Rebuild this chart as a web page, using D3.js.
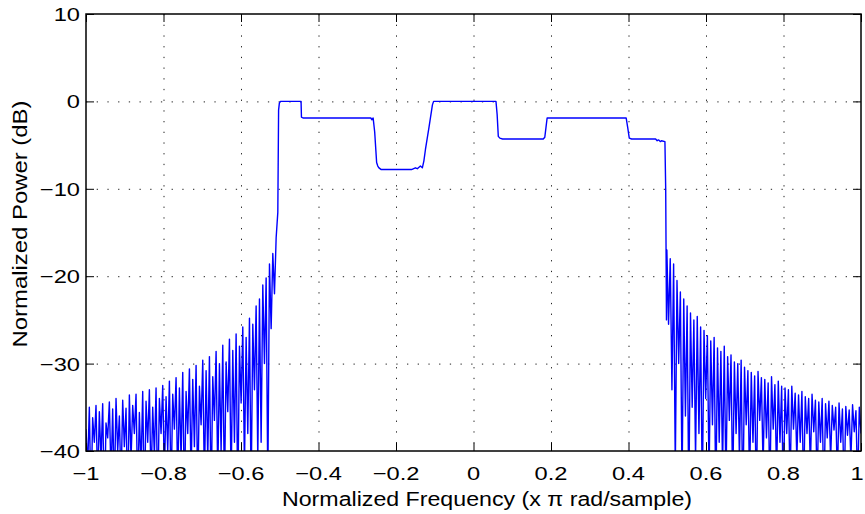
<!DOCTYPE html>
<html><head>
<meta charset="utf-8">
<script src="https://d3js.org/d3.v7.min.js"></script>
<style>
  body { margin: 0; background: #fff; }
  svg { font-family: "Liberation Sans", Arial, Helvetica, sans-serif; }
  .grid line { stroke: #222; stroke-width: 1; stroke-dasharray: 1.3,9.4; }
  .grid path { display: none; }
  .ticks line { stroke: #000; stroke-width: 1; }
  .ticks path { display: none; }
  .ticks text { display: none; }
</style>
</head>
<body>
<svg id="chart" width="865" height="514"></svg>
<script>
// tick labels
const xTicks = [-1, -0.8, -0.6, -0.4, -0.2, 0, 0.2, 0.4, 0.6, 0.8, 1];
const yTicks = [-40, -30, -20, -10, 0, 10];

// stopband tail on the left, evenly sampled from -1 to -0.505
const leftTailRange = [-1, -0.505];
const leftTailDb = [
  -37.5, -42, -35.0, -46, -36.2, -39, -34.8, -44, -35.5, -41, -34.6, -47, -36.8, -38.5, -34.4, -43, -35.2, -45, -34.0, -40, -36.0, -44, -34.2, -39.5,
  -35.1, -46, -33.6, -41, -34.8, -38, -33.5, -45, -35.6, -42, -33.2, -47, -34.3, -39, -33.0, -44, -35.0, -40.5, -32.8, -46, -34.0, -38.0, -32.5,
  -43, -33.8, -40, -32.0, -45, -33.5, -37.5, -31.6, -44, -32.8, -41, -31.0, -46, -33.2, -38, -30.6, -43, -31.8, -39.5, -30.2, -45, -32.6, -37.0, -29.6,
  -44, -30.8, -41, -29.2, -46, -31.5, -36.5, -28.6, -43, -30.0, -40, -27.9, -45, -29.8, -35.5, -27.2, -44, -28.5, -39, -26.6, -46, -28.0, -34.5,
  -25.8, -42, -27.0, -38, -24.8, -45, -25.5, -33, -23.4, -41, -22.6,
  -39, -21.0, -30, -20.2, -44, -18.6, -26, -17.4, -22, -15.6, -12.7
];

// passband steps
const bandFreq = [-0.503, -0.501, -0.498, -0.445, -0.444, -0.440, -0.265, -0.262, -0.259, -0.255, -0.250, -0.247, -0.244, -0.238,
  -0.160, -0.150, -0.145, -0.137, -0.132, -0.128, -0.124, -0.115, -0.106, -0.103,
  0.058, 0.061, 0.064, 0.068, 0.075, 0.180, 0.184, 0.187, 0.190, 0.394, 0.398, 0.402, 0.408,
  0.470, 0.474, 0.478, 0.482, 0.485, 0.494, 0.496, 0.498];
const bandDb = [-1.0, -0.2, 0.0, 0.0, -1.8, -1.9, -1.9, -2.1, -1.9, -3.5, -7.0, -7.4, -7.6, -7.8,
  -7.8, -7.6, -7.7, -7.4, -7.6, -6.8, -5.5, -3.0, -0.4, 0.0,
  0.0, -1.5, -4.0, -4.2, -4.3, -4.3, -4.1, -3.0, -1.9, -1.9, -3.0, -4.2, -4.3,
  -4.3, -4.5, -4.4, -4.6, -4.5, -4.6, -10, -25];

// stopband tail on the right, evenly sampled from 0.499 to 1
const rightTailRange = [0.499, 1];
const rightTailDb = [
  -17.0, -25.5, -18.0, -33, -18.6, -42, -20.5, -30, -21.8, -44, -22.6, -36,
  -23.4, -46, -24.2, -35, -25.0, -41, -24.6, -38, -25.8, -45, -26.2, -34,
  -26.8, -43, -27.4, -37, -27.0, -46, -28.2, -39, -28.6, -42, -28.0,
  -44, -29.2, -36.5, -29.0, -45, -29.8, -38, -30.0, -41, -29.6, -47, -30.4,
  -37, -30.8, -44, -31.0, -39, -31.4, -46, -30.9, -36.5, -31.6, -42, -31.8, -38.5, -32.2, -45, -31.5, -37.5, -32.4, -43, -32.0, -39, -32.6, -46,
  -32.8, -38, -33.0, -44, -32.6, -37.5, -33.4, -41, -33.6, -39, -33.2, -45, -33.8, -38, -34.0, -42, -33.5, -37.8, -34.2, -44, -34.4, -39, -34.0,
  -46, -34.6, -38.5, -34.3, -41, -34.8, -37.6, -35.0, -43, -34.5, -39, -35.2, -45, -34.9, -38.2, -35.3, -41, -34.7, -37.8, -35.4, -44, -35.0, -38
];

const svg = d3.select("svg#chart");
const margin = { top: 14, right: 4, bottom: 63, left: 86 };
const width = 865 - margin.left - margin.right;
const height = 514 - margin.top - margin.bottom;

const x = d3.scaleLinear().domain([-1, 1]).range([0, width]);
const y = d3.scaleLinear().domain([-40, 10]).range([height, 0]);

function sampled(range, values) {
  const idx = d3.scaleLinear().domain([0, values.length - 1]).range(range);
  return values.map((v, i) => ({ f: idx(i), db: v }));
}
const data = sampled(leftTailRange, leftTailDb)
  .concat(bandFreq.map((f, i) => ({ f: f, db: bandDb[i] })))
  .concat(sampled(rightTailRange, rightTailDb));

const g = svg.append("g").attr("transform", `translate(${margin.left},${margin.top})`);

// dotted grid
g.append("g").attr("class", "grid")
  .call(d3.axisBottom(x).tickValues(xTicks.slice(1, -1)).tickSize(height).tickFormat(""));
g.append("g").attr("class", "grid")
  .call(d3.axisLeft(y).tickValues(yTicks.slice(1, -1)).tickSize(-width).tickFormat(""));

// data line
g.append("clipPath").attr("id", "plotclip")
  .append("rect").attr("width", width).attr("height", height);

const line = d3.line().x(d => x(d.f)).y(d => y(d.db));
g.append("path")
  .datum(data)
  .attr("clip-path", "url(#plotclip)")
  .attr("fill", "none")
  .attr("stroke", "#0000ff")
  .attr("stroke-width", 1.4)
  .attr("stroke-linejoin", "round")
  .attr("d", line);

// inward ticks on all four sides
g.append("g").attr("class", "ticks").attr("transform", `translate(0,${height})`)
  .call(d3.axisBottom(x).tickValues(xTicks).tickSize(-8));
g.append("g").attr("class", "ticks")
  .call(d3.axisTop(x).tickValues(xTicks).tickSize(-8));
g.append("g").attr("class", "ticks")
  .call(d3.axisLeft(y).tickValues(yTicks).tickSize(-8));
g.append("g").attr("class", "ticks").attr("transform", `translate(${width},0)`)
  .call(d3.axisRight(y).tickValues(yTicks).tickSize(-8));

// box
g.append("rect")
  .attr("width", width).attr("height", height)
  .attr("fill", "none").attr("stroke", "#000").attr("stroke-width", 1.5);

const fmt = v => (v < 0 ? "\u2212" : "") + String(Math.abs(v));

// tick labels (the picture is stretched sideways, so are the labels)
g.selectAll("text.xlab").data(xTicks).join("text")
  .attr("class", "xlab")
  .attr("transform", d => `translate(${Math.min(x(d), width - 4)},${height + 29}) scale(1.28,1)`)
  .attr("text-anchor", "middle")
  .attr("font-size", "18.5px")
  .text(fmt);

g.selectAll("text.ylab").data(yTicks).join("text")
  .attr("class", "ylab")
  .attr("transform", d => `translate(-6,${y(d) + 7}) scale(1.28,1)`)
  .attr("text-anchor", "end")
  .attr("font-size", "18.5px")
  .text(fmt);

// axis labels
svg.append("text")
  .attr("x", 487).attr("y", 506)
  .attr("text-anchor", "middle")
  .attr("font-size", "19.5px")
  .attr("textLength", 410).attr("lengthAdjust", "spacingAndGlyphs")
  .text("Normalized Frequency (x \u03c0 rad/sample)");

svg.append("text")
  .attr("transform", "translate(27,224) rotate(-90)")
  .attr("text-anchor", "middle")
  .attr("font-size", "20.5px")
  .attr("textLength", 247).attr("lengthAdjust", "spacingAndGlyphs")
  .text("Normalized Power (dB)");
</script>
</body>
</html>
